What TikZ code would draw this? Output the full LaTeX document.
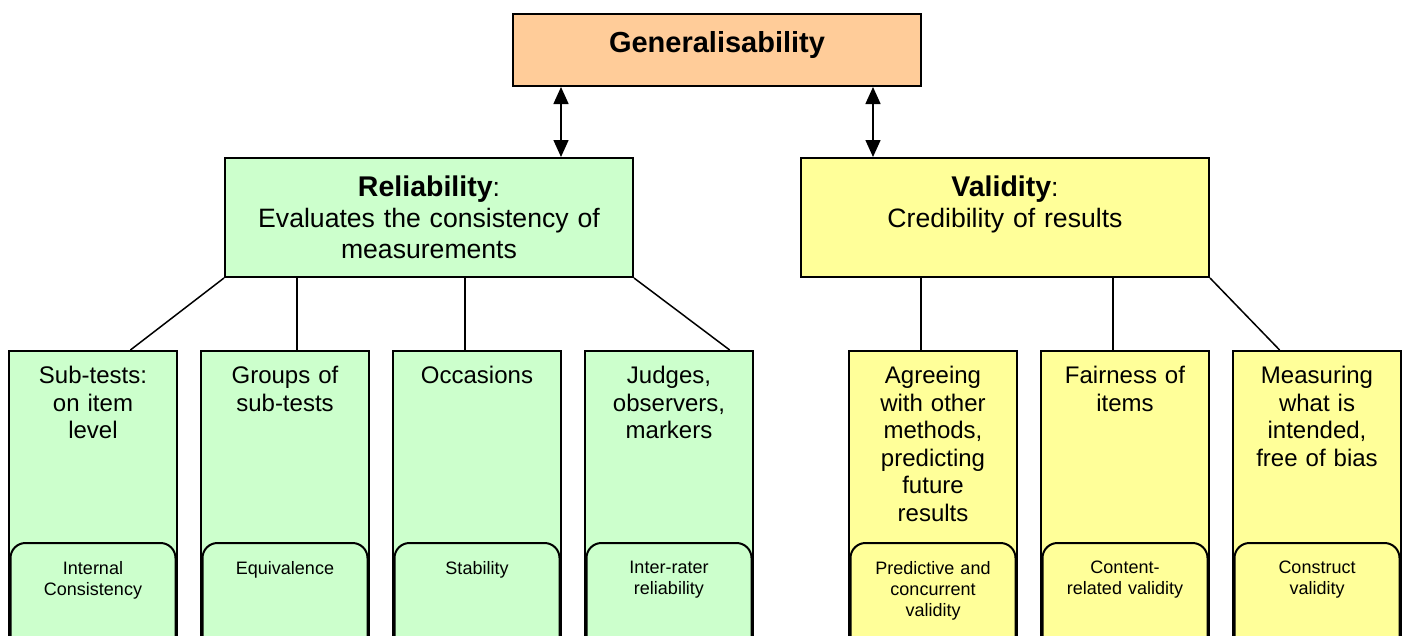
\documentclass[tikz,border=0pt]{standalone}
\usepackage{fontspec}
\setmainfont{Liberation Sans}
\usetikzlibrary{arrows.meta,calc}

\definecolor{genorange}{HTML}{FFCC99}
\definecolor{relgreen}{HTML}{CCFFCC}
\definecolor{valyellow}{HTML}{FFFF99}

\tikzset{
  topbox/.style={draw, line width=2pt, minimum width=408pt, inner sep=0pt},
  colbox/.style={draw, line width=2pt, minimum width=168pt, minimum height=330pt, anchor=north, inner sep=0pt},
  subbox/.style={draw, line width=2pt, rounded corners=15pt, minimum width=165pt, minimum height=130pt, anchor=north, inner sep=0pt},
  headtext/.style={anchor=north, text width=400pt, align=center, inner sep=0pt},
  coltext/.style={anchor=north, text width=160pt, align=center, inner sep=0pt, font=\fontsize{24}{27.5}\selectfont},
  subtext/.style={anchor=north, text width=160pt, align=center, inner sep=0pt, font=\fontsize{18}{21}\selectfont},
  link/.style={line width=1.5pt},
  twoway/.style={line width=1.5pt, {Triangle[length=17pt,width=15pt]}-{Triangle[length=17pt,width=15pt]}}
}

\begin{document}
\begin{tikzpicture}[x=1pt,y=-1pt]

	\useasboundingbox (0,0) rectangle (1408,635);
	\clip (0,0) rectangle (1408,635);

	% top level
	\node[topbox, fill=genorange, minimum height=72pt] (gen) at (717,50) {};
	\node[headtext, font=\fontsize{29}{31}\selectfont\bfseries] (gent) at (717,31) {Generalisability};

	\node[topbox, fill=relgreen, minimum height=119pt] (rel) at (429,217.5) {};
	\node[headtext, font=\fontsize{26.6}{30.8}\selectfont] (relt) at (429,176)
	  {{\fontsize{28.5}{30.8}\selectfont\bfseries Reliability}:\\Evaluates the consistency of\\measurements};

	\node[topbox, fill=valyellow, minimum height=119pt] (val) at (1005,217.5) {};
	\node[headtext, font=\fontsize{26.6}{30.8}\selectfont] (valt) at (1005,176)
	  {{\fontsize{28.5}{30.8}\selectfont\bfseries Validity}:\\Credibility of results};

	\draw[twoway] (gen.south -| 561,0) -- (rel.north -| 561,0);
	\draw[twoway] (gen.south -| 873,0) -- (val.north -| 873,0);

	% reliability columns
	\foreach \i/\x/\top/\bottom in {
	    1/93/{Sub-tests:\\on item\\level}/{Internal\\Consistency},
	    2/285/{Groups of\\sub-tests}/{Equivalence},
	    3/477/{Occasions}/{Stability},
	    4/669/{Judges,\\observers,\\markers}/{Inter-rater\\reliability}}{
	  \node[colbox, fill=relgreen] (c\i) at (\x,350) {};
	  \node[coltext] (c\i t) at (\x,366) {\top};
	  \node[subbox, fill=relgreen] (s\i) at (\x,542) {};
	  \node[subtext] (s\i t) at (\x,561) {\bottom};
	}

	% validity columns
	\foreach \i/\x/\top/\bottom in {
	    5/933/{Agreeing\\with other\\methods,\\predicting\\future\\results}/{Predictive and\\concurrent\\validity},
	    6/1125/{Fairness of\\items}/{Content-\\related validity},
	    7/1317/{Measuring\\what is\\intended,\\free of bias}/{Construct\\validity}}{
	  \node[colbox, fill=valyellow] (c\i) at (\x,350) {};
	  \node[coltext] (c\i t) at (\x,366) {\top};
	  \node[subbox, fill=valyellow] (s\i) at (\x,542) {};
	  \node[subtext] (s\i t) at (\x,561) {\bottom};
	}

	\draw[link] (rel.south west) -- ($(c1.north west)!0.72!(c1.north east)$);
	\draw[link] ($(c2.north)+(12,0)$) coordinate (t2) -- (t2 |- rel.south);
	\draw[link] ($(c3.north)+(-12,0)$) coordinate (t3) -- (t3 |- rel.south);
	\draw[link] (rel.south east) -- ($(c4.north west)!0.857!(c4.north east)$);

	\draw[link] ($(c5.north)+(-12,0)$) coordinate (t5) -- (t5 |- val.south);
	\draw[link] ($(c6.north)+(-12,0)$) coordinate (t6) -- (t6 |- val.south);
	\draw[link] (val.south east) -- ($(c7.north west)!0.28!(c7.north east)$);

\end{tikzpicture}
\end{document}
